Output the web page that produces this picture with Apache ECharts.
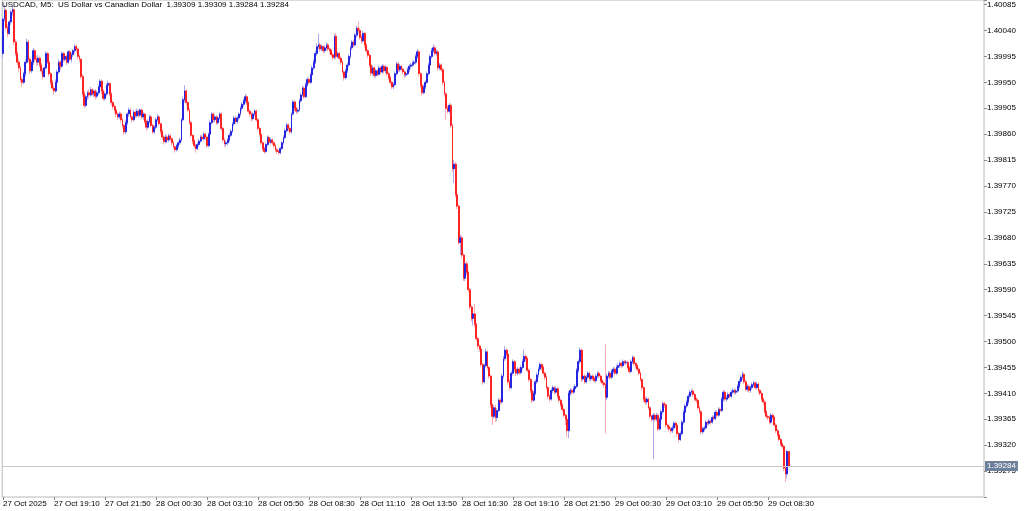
<!DOCTYPE html>
<html><head><meta charset="utf-8">
<script src="https://cdn.jsdelivr.net/npm/echarts@6/dist/echarts.min.js"></script>
<style>html,body{margin:0;padding:0;background:#fff}#c{width:1024px;height:511px}</style>
</head><body><div id="c"></div>
<script>
const symbol = 'USDCAD';
const timeframe = 'M5';
const description = 'US Dollar vs Canadian Dollar';
const xTickLabels = ['27 Oct 2025','27 Oct 19:10','27 Oct 21:50','28 Oct 00:30','28 Oct 03:10','28 Oct 05:50','28 Oct 08:30','28 Oct 11:10','28 Oct 13:50','28 Oct 16:30','28 Oct 19:10','28 Oct 21:50','29 Oct 00:30','29 Oct 03:10','29 Oct 05:50','29 Oct 08:30'];
const yTickLabels = ['1.40085','1.40040','1.39995','1.39950','1.39905','1.39860','1.39815','1.39770','1.39725','1.39680','1.39635','1.39590','1.39545','1.39500','1.39455','1.39410','1.39365','1.39320','1.39275'];
// [open, close, low, high]
const bars = [
[1.40000,1.40060,1.39992,1.40064],[1.40060,1.40075,1.40055,1.40085],[1.40075,1.40045,1.40040,1.40078],[1.40045,1.40035,1.40028,1.40050],
[1.40035,1.40055,1.40032,1.40058],[1.40055,1.40072,1.40050,1.40076],[1.40072,1.40076,1.40066,1.40082],[1.40076,1.40020,1.40015,1.40078],
[1.40020,1.40000,1.39995,1.40025],[1.40000,1.39985,1.39980,1.40005],[1.39985,1.39975,1.39968,1.39990],[1.39975,1.39955,1.39950,1.39978],
[1.39955,1.39950,1.39942,1.39960],[1.39950,1.39965,1.39947,1.39968],[1.39965,1.39985,1.39960,1.39990],[1.39985,1.40020,1.39982,1.40026],
[1.40020,1.39990,1.39985,1.40024],[1.39990,1.39970,1.39965,1.39994],[1.39970,1.39985,1.39966,1.39988],[1.39985,1.40005,1.39980,1.40010],
[1.40005,1.39990,1.39986,1.40008],[1.39990,1.39985,1.39978,1.39995],[1.39985,1.39992,1.39980,1.39998],[1.39992,1.39980,1.39976,1.39996],
[1.39980,1.39970,1.39965,1.39984],[1.39970,1.39960,1.39955,1.39975],[1.39960,1.39975,1.39958,1.39978],[1.39975,1.40000,1.39972,1.40004],
[1.40000,1.39985,1.39982,1.40003],[1.39985,1.39965,1.39960,1.39988],[1.39965,1.39950,1.39945,1.39968],[1.39950,1.39940,1.39936,1.39954],
[1.39940,1.39935,1.39928,1.39945],[1.39935,1.39950,1.39932,1.39955],[1.39950,1.39968,1.39946,1.39972],[1.39968,1.39985,1.39965,1.39990],
[1.39985,1.39978,1.39972,1.39988],[1.39978,1.40000,1.39975,1.40004],[1.40000,1.39990,1.39985,1.40003],[1.39990,1.39995,1.39986,1.40000],
[1.39995,1.39985,1.39980,1.39998],[1.39985,1.40003,1.39982,1.40006],[1.40003,1.39990,1.39987,1.40006],[1.39990,1.39998,1.39985,1.40002],
[1.39998,1.40005,1.39994,1.40008],[1.40005,1.40012,1.40000,1.40016],[1.40012,1.40008,1.40002,1.40016],[1.40008,1.39995,1.39990,1.40010],
[1.39995,1.39990,1.39985,1.39998],[1.39990,1.39960,1.39955,1.39992],[1.39960,1.39930,1.39925,1.39964],[1.39930,1.39910,1.39905,1.39935],
[1.39910,1.39925,1.39907,1.39928],[1.39925,1.39932,1.39920,1.39936],[1.39932,1.39928,1.39922,1.39938],[1.39928,1.39937,1.39925,1.39942],
[1.39937,1.39930,1.39926,1.39940],[1.39930,1.39935,1.39925,1.39938],[1.39935,1.39926,1.39920,1.39938],[1.39926,1.39932,1.39922,1.39936],
[1.39932,1.39942,1.39928,1.39946],[1.39942,1.39952,1.39938,1.39956],[1.39952,1.39935,1.39930,1.39955],[1.39935,1.39922,1.39918,1.39938],
[1.39922,1.39930,1.39918,1.39934],[1.39930,1.39945,1.39926,1.39948],[1.39945,1.39948,1.39940,1.39953],[1.39948,1.39930,1.39926,1.39950],
[1.39930,1.39915,1.39910,1.39933],[1.39915,1.39908,1.39903,1.39918],[1.39908,1.39902,1.39897,1.39912],[1.39902,1.39895,1.39890,1.39906],
[1.39895,1.39890,1.39885,1.39898],[1.39890,1.39895,1.39886,1.39899],[1.39895,1.39885,1.39880,1.39898],[1.39885,1.39875,1.39870,1.39888],
[1.39875,1.39864,1.39858,1.39878],[1.39864,1.39880,1.39860,1.39884],[1.39880,1.39895,1.39876,1.39898],[1.39895,1.39902,1.39890,1.39906],
[1.39902,1.39890,1.39886,1.39905],[1.39890,1.39885,1.39880,1.39893],[1.39885,1.39898,1.39882,1.39902],[1.39898,1.39892,1.39888,1.39901],
[1.39892,1.39900,1.39889,1.39904],[1.39900,1.39893,1.39888,1.39903],[1.39893,1.39902,1.39890,1.39905],[1.39902,1.39890,1.39886,1.39905],
[1.39890,1.39895,1.39885,1.39898],[1.39895,1.39882,1.39878,1.39897],[1.39882,1.39872,1.39866,1.39885],[1.39872,1.39882,1.39869,1.39886],
[1.39882,1.39890,1.39878,1.39894],[1.39890,1.39875,1.39872,1.39893],[1.39875,1.39864,1.39860,1.39878],[1.39864,1.39872,1.39861,1.39875],
[1.39872,1.39885,1.39868,1.39889],[1.39885,1.39890,1.39881,1.39895],[1.39890,1.39878,1.39874,1.39893],[1.39878,1.39865,1.39860,1.39880],
[1.39865,1.39855,1.39850,1.39868],[1.39855,1.39847,1.39842,1.39858],[1.39847,1.39855,1.39844,1.39860],[1.39855,1.39850,1.39845,1.39858],
[1.39850,1.39857,1.39846,1.39861],[1.39857,1.39852,1.39848,1.39860],[1.39852,1.39845,1.39840,1.39855],[1.39845,1.39838,1.39834,1.39848],
[1.39838,1.39833,1.39828,1.39840],[1.39833,1.39840,1.39830,1.39843],[1.39840,1.39845,1.39836,1.39848],[1.39845,1.39850,1.39841,1.39854],
[1.39850,1.39885,1.39847,1.39888],[1.39885,1.39920,1.39882,1.39925],[1.39920,1.39935,1.39915,1.39945],[1.39935,1.39915,1.39910,1.39938],
[1.39915,1.39902,1.39898,1.39918],[1.39902,1.39880,1.39876,1.39905],[1.39880,1.39858,1.39854,1.39883],[1.39858,1.39848,1.39843,1.39860],
[1.39848,1.39840,1.39836,1.39852],[1.39840,1.39835,1.39828,1.39843],[1.39835,1.39842,1.39832,1.39846],[1.39842,1.39848,1.39838,1.39852],
[1.39848,1.39855,1.39845,1.39858],[1.39855,1.39852,1.39848,1.39860],[1.39852,1.39860,1.39849,1.39864],[1.39860,1.39855,1.39850,1.39863],
[1.39855,1.39840,1.39836,1.39858],[1.39840,1.39860,1.39837,1.39863],[1.39860,1.39880,1.39857,1.39884],[1.39880,1.39895,1.39876,1.39898],
[1.39895,1.39885,1.39880,1.39898],[1.39885,1.39890,1.39881,1.39894],[1.39890,1.39880,1.39876,1.39893],[1.39880,1.39888,1.39877,1.39891],
[1.39888,1.39895,1.39884,1.39899],[1.39895,1.39870,1.39866,1.39898],[1.39870,1.39850,1.39846,1.39873],[1.39850,1.39843,1.39838,1.39853],
[1.39843,1.39845,1.39838,1.39849],[1.39845,1.39850,1.39841,1.39853],[1.39850,1.39858,1.39846,1.39862],[1.39858,1.39865,1.39855,1.39869],
[1.39865,1.39878,1.39862,1.39881],[1.39878,1.39888,1.39874,1.39892],[1.39888,1.39882,1.39878,1.39891],[1.39882,1.39888,1.39878,1.39892],
[1.39888,1.39895,1.39884,1.39898],[1.39895,1.39905,1.39891,1.39909],[1.39905,1.39912,1.39900,1.39916],[1.39912,1.39918,1.39908,1.39922],
[1.39918,1.39925,1.39914,1.39930],[1.39925,1.39915,1.39910,1.39928],[1.39915,1.39900,1.39896,1.39918],[1.39900,1.39895,1.39890,1.39903],
[1.39895,1.39887,1.39882,1.39898],[1.39887,1.39895,1.39884,1.39898],[1.39895,1.39900,1.39891,1.39904],[1.39900,1.39885,1.39881,1.39903],
[1.39885,1.39870,1.39866,1.39888],[1.39870,1.39860,1.39856,1.39873],[1.39860,1.39845,1.39841,1.39863],[1.39845,1.39835,1.39831,1.39848],
[1.39835,1.39830,1.39826,1.39838],[1.39830,1.39842,1.39827,1.39845],[1.39842,1.39854,1.39839,1.39858],[1.39854,1.39846,1.39842,1.39857],
[1.39846,1.39850,1.39842,1.39854],[1.39850,1.39845,1.39841,1.39853],[1.39845,1.39840,1.39836,1.39848],[1.39840,1.39833,1.39829,1.39843],
[1.39833,1.39830,1.39826,1.39836],[1.39830,1.39828,1.39824,1.39833],[1.39828,1.39835,1.39825,1.39838],[1.39835,1.39845,1.39832,1.39848],
[1.39845,1.39854,1.39842,1.39858],[1.39854,1.39866,1.39851,1.39870],[1.39866,1.39876,1.39862,1.39880],[1.39876,1.39870,1.39865,1.39879],
[1.39870,1.39864,1.39860,1.39873],[1.39864,1.39895,1.39861,1.39898],[1.39895,1.39916,1.39892,1.39920],[1.39916,1.39905,1.39900,1.39919],
[1.39905,1.39900,1.39895,1.39908],[1.39900,1.39902,1.39896,1.39906],[1.39902,1.39918,1.39899,1.39922],[1.39918,1.39928,1.39914,1.39932],
[1.39928,1.39940,1.39925,1.39944],[1.39940,1.39925,1.39921,1.39943],[1.39925,1.39946,1.39922,1.39950],[1.39946,1.39955,1.39942,1.39959],
[1.39955,1.39950,1.39946,1.39958],[1.39950,1.39963,1.39947,1.39967],[1.39963,1.39975,1.39960,1.39979],[1.39975,1.39985,1.39971,1.39990],
[1.39985,1.40000,1.39982,1.40005],[1.40000,1.40012,1.39996,1.40018],[1.40012,1.40015,1.40008,1.40035],[1.40015,1.40008,1.40003,1.40019],
[1.40008,1.40012,1.40004,1.40016],[1.40012,1.40005,1.40000,1.40015],[1.40005,1.40010,1.40001,1.40014],[1.40010,1.40015,1.40006,1.40019],
[1.40015,1.40008,1.40004,1.40018],[1.40008,1.40005,1.40000,1.40011],[1.40005,1.39998,1.39994,1.40008],[1.39998,1.39993,1.39988,1.40001],
[1.39993,1.40030,1.39990,1.40034],[1.40030,1.39995,1.39990,1.40036],[1.39995,1.40000,1.39991,1.40004],[1.40000,1.39992,1.39988,1.40003],
[1.39992,1.39985,1.39980,1.39995],[1.39985,1.39968,1.39964,1.39988],[1.39968,1.39958,1.39953,1.39971],[1.39958,1.39970,1.39955,1.39974],
[1.39970,1.39980,1.39966,1.39984],[1.39980,1.39995,1.39977,1.39999],[1.39995,1.40010,1.39991,1.40014],[1.40010,1.40020,1.40006,1.40024],
[1.40020,1.40015,1.40011,1.40024],[1.40015,1.40032,1.40012,1.40036],[1.40032,1.40044,1.40028,1.40048],[1.40044,1.40040,1.40035,1.40055],
[1.40040,1.40028,1.40024,1.40045],[1.40028,1.40022,1.40017,1.40032],[1.40022,1.40035,1.40019,1.40039],[1.40035,1.40015,1.40010,1.40038],
[1.40015,1.40005,1.40000,1.40018],[1.40005,1.39997,1.39992,1.40008],[1.39997,1.39980,1.39975,1.40000],[1.39980,1.39966,1.39961,1.39983],
[1.39966,1.39975,1.39962,1.39979],[1.39975,1.39962,1.39958,1.39978],[1.39962,1.39970,1.39958,1.39974],[1.39970,1.39964,1.39960,1.39973],
[1.39964,1.39975,1.39961,1.39979],[1.39975,1.39968,1.39964,1.39978],[1.39968,1.39978,1.39965,1.39982],[1.39978,1.39970,1.39966,1.39981],
[1.39970,1.39976,1.39966,1.39980],[1.39976,1.39965,1.39961,1.39979],[1.39965,1.39958,1.39954,1.39968],[1.39958,1.39950,1.39946,1.39961],
[1.39950,1.39942,1.39938,1.39953],[1.39942,1.39946,1.39938,1.39950],[1.39946,1.39965,1.39943,1.39969],[1.39965,1.39982,1.39962,1.39986],
[1.39982,1.39972,1.39968,1.39985],[1.39972,1.39978,1.39968,1.39982],[1.39978,1.39973,1.39969,1.39981],[1.39973,1.39968,1.39964,1.39976],
[1.39968,1.39963,1.39958,1.39971],[1.39963,1.39965,1.39959,1.39969],[1.39965,1.39972,1.39962,1.39976],[1.39972,1.39978,1.39968,1.39982],
[1.39978,1.39980,1.39974,1.39984],[1.39980,1.39983,1.39976,1.39987],[1.39983,1.39985,1.39979,1.39989],[1.39985,1.39995,1.39981,1.39999],
[1.39995,1.40003,1.39991,1.40008],[1.40003,1.39965,1.39960,1.40006],[1.39965,1.39945,1.39940,1.39968],[1.39945,1.39932,1.39927,1.39948],
[1.39932,1.39942,1.39929,1.39946],[1.39942,1.39950,1.39938,1.39954],[1.39950,1.39965,1.39947,1.39969],[1.39965,1.39980,1.39962,1.39984],
[1.39980,1.39995,1.39977,1.39999],[1.39995,1.40005,1.39991,1.40010],[1.40005,1.40010,1.40001,1.40016],[1.40010,1.40000,1.39996,1.40014],
[1.40000,1.40003,1.39996,1.40007],[1.40003,1.39975,1.39970,1.40006],[1.39975,1.39980,1.39971,1.39984],[1.39980,1.39972,1.39968,1.39983],
[1.39972,1.39950,1.39945,1.39975],[1.39950,1.39930,1.39925,1.39953],[1.39930,1.39905,1.39885,1.39933],[1.39905,1.39900,1.39896,1.39910],
[1.39900,1.39910,1.39896,1.39914],[1.39910,1.39875,1.39870,1.39913],[1.39875,1.39800,1.39795,1.39878],[1.39800,1.39808,1.39775,1.39815],
[1.39808,1.39755,1.39750,1.39812],[1.39755,1.39735,1.39730,1.39760],[1.39735,1.39672,1.39668,1.39738],[1.39672,1.39680,1.39650,1.39685],
[1.39680,1.39650,1.39645,1.39684],[1.39650,1.39610,1.39605,1.39653],[1.39610,1.39635,1.39605,1.39640],[1.39635,1.39620,1.39615,1.39640],
[1.39620,1.39590,1.39585,1.39623],[1.39590,1.39560,1.39555,1.39593],[1.39560,1.39540,1.39535,1.39563],[1.39540,1.39548,1.39528,1.39552],
[1.39548,1.39530,1.39525,1.39565],[1.39530,1.39505,1.39500,1.39533],[1.39505,1.39492,1.39487,1.39508],[1.39492,1.39487,1.39482,1.39495],
[1.39487,1.39460,1.39455,1.39490],[1.39460,1.39430,1.39425,1.39463],[1.39430,1.39458,1.39427,1.39462],[1.39458,1.39482,1.39455,1.39488],
[1.39482,1.39455,1.39450,1.39485],[1.39455,1.39440,1.39435,1.39458],[1.39440,1.39390,1.39385,1.39443],[1.39390,1.39370,1.39355,1.39393],
[1.39370,1.39385,1.39366,1.39390],[1.39385,1.39368,1.39360,1.39390],[1.39368,1.39380,1.39362,1.39384],[1.39380,1.39398,1.39377,1.39402],
[1.39398,1.39395,1.39390,1.39402],[1.39395,1.39440,1.39392,1.39444],[1.39440,1.39470,1.39436,1.39475],[1.39470,1.39485,1.39466,1.39492],
[1.39485,1.39478,1.39472,1.39488],[1.39478,1.39430,1.39425,1.39481],[1.39430,1.39420,1.39415,1.39434],[1.39420,1.39445,1.39417,1.39449],
[1.39445,1.39465,1.39441,1.39469],[1.39465,1.39452,1.39447,1.39468],[1.39452,1.39445,1.39440,1.39455],[1.39445,1.39452,1.39441,1.39456],
[1.39452,1.39446,1.39442,1.39455],[1.39446,1.39455,1.39443,1.39459],[1.39455,1.39465,1.39451,1.39469],[1.39465,1.39474,1.39461,1.39486],
[1.39474,1.39470,1.39465,1.39478],[1.39470,1.39450,1.39446,1.39473],[1.39450,1.39434,1.39430,1.39453],[1.39434,1.39415,1.39410,1.39437],
[1.39415,1.39398,1.39393,1.39418],[1.39398,1.39410,1.39395,1.39414],[1.39410,1.39430,1.39407,1.39434],[1.39430,1.39442,1.39426,1.39446],
[1.39442,1.39452,1.39438,1.39456],[1.39452,1.39460,1.39448,1.39464],[1.39460,1.39455,1.39450,1.39463],[1.39455,1.39445,1.39441,1.39458],
[1.39445,1.39438,1.39433,1.39448],[1.39438,1.39420,1.39415,1.39441],[1.39420,1.39405,1.39400,1.39423],[1.39405,1.39400,1.39395,1.39408],
[1.39400,1.39415,1.39397,1.39419],[1.39415,1.39420,1.39411,1.39424],[1.39420,1.39412,1.39408,1.39423],[1.39412,1.39418,1.39409,1.39422],
[1.39418,1.39405,1.39401,1.39421],[1.39405,1.39398,1.39394,1.39408],[1.39398,1.39390,1.39386,1.39401],[1.39390,1.39382,1.39378,1.39393],
[1.39382,1.39372,1.39368,1.39385],[1.39372,1.39365,1.39355,1.39375],[1.39365,1.39345,1.39333,1.39368],[1.39345,1.39410,1.39332,1.39414],
[1.39410,1.39415,1.39406,1.39419],[1.39415,1.39412,1.39408,1.39418],[1.39412,1.39418,1.39409,1.39422],[1.39418,1.39422,1.39414,1.39426],
[1.39422,1.39450,1.39419,1.39454],[1.39450,1.39465,1.39446,1.39469],[1.39465,1.39485,1.39461,1.39490],[1.39485,1.39435,1.39430,1.39488],
[1.39435,1.39440,1.39431,1.39444],[1.39440,1.39430,1.39426,1.39443],[1.39430,1.39438,1.39427,1.39442],[1.39438,1.39445,1.39434,1.39449],
[1.39445,1.39435,1.39431,1.39448],[1.39435,1.39440,1.39431,1.39444],[1.39440,1.39436,1.39432,1.39443],[1.39436,1.39432,1.39428,1.39439],
[1.39432,1.39440,1.39429,1.39444],[1.39440,1.39445,1.39436,1.39449],[1.39445,1.39440,1.39436,1.39448],[1.39440,1.39432,1.39428,1.39443],
[1.39432,1.39428,1.39424,1.39435],[1.39428,1.39425,1.39420,1.39431],[1.39425,1.39403,1.39340,1.39495],[1.39403,1.39440,1.39398,1.39444],
[1.39440,1.39445,1.39436,1.39449],[1.39445,1.39438,1.39434,1.39448],[1.39438,1.39448,1.39435,1.39452],[1.39448,1.39452,1.39444,1.39456],
[1.39452,1.39445,1.39441,1.39455],[1.39445,1.39455,1.39442,1.39459],[1.39455,1.39458,1.39451,1.39462],[1.39458,1.39462,1.39454,1.39466],
[1.39462,1.39458,1.39454,1.39465],[1.39458,1.39465,1.39455,1.39469],[1.39465,1.39463,1.39460,1.39468],[1.39463,1.39464,1.39459,1.39468],
[1.39464,1.39455,1.39451,1.39467],[1.39455,1.39448,1.39444,1.39458],[1.39448,1.39465,1.39445,1.39469],[1.39465,1.39472,1.39461,1.39476],
[1.39472,1.39462,1.39458,1.39475],[1.39462,1.39458,1.39454,1.39465],[1.39458,1.39452,1.39448,1.39461],[1.39452,1.39445,1.39441,1.39455],
[1.39445,1.39434,1.39430,1.39448],[1.39434,1.39420,1.39415,1.39437],[1.39420,1.39400,1.39395,1.39423],[1.39400,1.39395,1.39390,1.39404],
[1.39395,1.39400,1.39391,1.39404],[1.39400,1.39385,1.39381,1.39403],[1.39385,1.39370,1.39366,1.39388],[1.39370,1.39365,1.39360,1.39373],
[1.39365,1.39372,1.39296,1.39376],[1.39372,1.39365,1.39360,1.39375],[1.39365,1.39372,1.39361,1.39376],[1.39372,1.39348,1.39344,1.39375],
[1.39348,1.39365,1.39345,1.39369],[1.39365,1.39378,1.39361,1.39382],[1.39378,1.39392,1.39374,1.39396],[1.39392,1.39390,1.39385,1.39396],
[1.39390,1.39355,1.39350,1.39393],[1.39355,1.39352,1.39347,1.39358],[1.39352,1.39348,1.39343,1.39355],[1.39348,1.39345,1.39340,1.39351],
[1.39345,1.39350,1.39341,1.39354],[1.39350,1.39358,1.39346,1.39362],[1.39358,1.39355,1.39350,1.39361],[1.39355,1.39340,1.39335,1.39358],
[1.39340,1.39330,1.39325,1.39343],[1.39330,1.39340,1.39327,1.39344],[1.39340,1.39360,1.39337,1.39364],[1.39360,1.39377,1.39356,1.39381],
[1.39377,1.39388,1.39373,1.39392],[1.39388,1.39395,1.39384,1.39399],[1.39395,1.39405,1.39391,1.39409],[1.39405,1.39412,1.39401,1.39416],
[1.39412,1.39414,1.39408,1.39418],[1.39414,1.39408,1.39404,1.39417],[1.39408,1.39400,1.39396,1.39411],[1.39400,1.39398,1.39393,1.39403],
[1.39398,1.39385,1.39381,1.39401],[1.39385,1.39378,1.39374,1.39388],[1.39378,1.39343,1.39338,1.39381],[1.39343,1.39348,1.39339,1.39352],
[1.39348,1.39350,1.39344,1.39354],[1.39350,1.39360,1.39347,1.39364],[1.39360,1.39358,1.39354,1.39363],[1.39358,1.39362,1.39354,1.39366],
[1.39362,1.39360,1.39356,1.39365],[1.39360,1.39368,1.39357,1.39372],[1.39368,1.39366,1.39362,1.39371],[1.39366,1.39377,1.39363,1.39381],
[1.39377,1.39372,1.39368,1.39380],[1.39372,1.39382,1.39369,1.39386],[1.39382,1.39380,1.39376,1.39385],[1.39380,1.39400,1.39377,1.39404],
[1.39400,1.39412,1.39396,1.39416],[1.39412,1.39400,1.39396,1.39415],[1.39400,1.39402,1.39396,1.39406],[1.39402,1.39408,1.39398,1.39412],
[1.39408,1.39405,1.39401,1.39411],[1.39405,1.39412,1.39402,1.39416],[1.39412,1.39415,1.39408,1.39419],[1.39415,1.39412,1.39408,1.39418],
[1.39412,1.39414,1.39408,1.39418],[1.39414,1.39422,1.39411,1.39426],[1.39422,1.39431,1.39418,1.39435],[1.39431,1.39438,1.39427,1.39442],
[1.39438,1.39443,1.39434,1.39448],[1.39443,1.39430,1.39426,1.39446],[1.39430,1.39417,1.39413,1.39433],[1.39417,1.39422,1.39413,1.39426],
[1.39422,1.39415,1.39411,1.39425],[1.39415,1.39420,1.39411,1.39424],[1.39420,1.39425,1.39416,1.39429],[1.39425,1.39428,1.39421,1.39432],
[1.39428,1.39420,1.39416,1.39431],[1.39420,1.39426,1.39417,1.39430],[1.39426,1.39415,1.39411,1.39429],[1.39415,1.39410,1.39406,1.39418],
[1.39410,1.39400,1.39396,1.39413],[1.39400,1.39395,1.39390,1.39403],[1.39395,1.39378,1.39374,1.39398],[1.39378,1.39370,1.39366,1.39381],
[1.39370,1.39368,1.39363,1.39373],[1.39368,1.39360,1.39356,1.39371],[1.39360,1.39372,1.39357,1.39376],[1.39372,1.39368,1.39364,1.39375],
[1.39368,1.39355,1.39351,1.39371],[1.39355,1.39345,1.39341,1.39358],[1.39345,1.39338,1.39334,1.39348],[1.39338,1.39330,1.39326,1.39341],
[1.39330,1.39322,1.39318,1.39333],[1.39322,1.39318,1.39313,1.39325],[1.39318,1.39280,1.39275,1.39321],[1.39280,1.39270,1.39256,1.39283],
[1.39270,1.39309,1.39262,1.39312],[1.39309,1.39284,1.39284,1.39309]
];

const slotCount = 616;          // bar slots across the chart window
const labelStep = 32;           // one time label every 32 bars
const monthNames = ['Jan','Feb','Mar','Apr','May','Jun','Jul','Aug','Sep','Oct','Nov','Dec'];
const pad2 = n => (n < 10 ? '0' : '') + n;
const startMs = Date.UTC(2025, 9, 27, 16, 30);
const categories = [];
for (let k = 0; k < slotCount; k++) {
  const d = new Date(startMs + k * 300000);
  categories.push(d.getUTCDate() + ' ' + monthNames[d.getUTCMonth()] + ' ' + pad2(d.getUTCHours()) + ':' + pad2(d.getUTCMinutes()));
}
const bodies = bars.map(b => [b[0], b[1], Math.min(b[0], b[1]), Math.max(b[0], b[1])]);
const last = bars[bars.length - 1];
const lastClose = last[1];
const titleText = symbol + ', ' + timeframe + ':  ' + description + '  ' +
  [last[0], last[3], last[2], last[1]].map(v => v.toFixed(5)).join(' ');

const FONT = 'Liberation Sans';
const showX = idx => idx % labelStep === 0 && idx / labelStep < xTickLabels.length;

const chart = echarts.init(document.getElementById('c'), null, {renderer: 'canvas'});
chart.setOption({
  animation: false,
  backgroundColor: '#ffffff',
  textStyle: {fontFamily: FONT},
  title: {
    text: titleText, left: 1, top: 0, padding: [1, 0, 0, 1],
    textStyle: {fontSize: 8, fontWeight: 'normal', color: '#000', fontFamily: FONT}
  },
  grid: {left: 1, top: 0, right: 40, bottom: 14, show: true, borderColor: '#b8b8b8', borderWidth: 1, backgroundColor: 'transparent'},
  xAxis: {
    type: 'category', data: categories, boundaryGap: true,
    axisLine: {show: false},
    axisTick: {show: true, alignWithLabel: true, interval: showX, length: 3, lineStyle: {color: '#8a8a8a'}},
    axisLabel: {
      interval: showX, align: 'left', margin: 3, fontSize: 8, color: '#000', fontFamily: FONT,
      formatter: (v, idx) => showX(idx) ? xTickLabels[idx / labelStep] : ''
    },
    splitLine: {show: false}
  },
  yAxis: {
    type: 'value', position: 'right', min: 1.3923, max: 1.40093, interval: 0.00045,
    axisLine: {show: false},
    axisTick: {show: true, length: 3, lineStyle: {color: '#8a8a8a'}},
    splitLine: {show: false},
    axisLabel: {
      margin: 3, fontSize: 8, color: '#000', fontFamily: FONT,
      formatter: v => { const s = v.toFixed(5); return yTickLabels.indexOf(s) >= 0 ? s : ''; }
    }
  },
  series: [
    {
      type: 'candlestick', name: 'range', data: bars, barWidth: 1, silent: true, large: false,
      itemStyle: {color: '#a9a9ef', color0: '#ffabb3', borderColor: '#a9a9ef', borderColor0: '#ffabb3', borderWidth: 1}
    },
    {
      type: 'candlestick', name: 'body', data: bodies, barWidth: 1.4, silent: true, large: false,
      itemStyle: {color: '#2626e2', color0: '#ff2424', borderColor: '#2626e2', borderColor0: '#ff2424', borderWidth: 1}
    },
    {
      type: 'line', name: 'price', data: [], silent: true, symbol: 'none', z: 5,
      markLine: {
        silent: true, symbol: ['none', 'none'], animation: false, precision: 5,
        lineStyle: {color: '#c8c8c8', width: 1, type: 'solid'},
        label: {
          show: true, position: 'end', distance: 1, formatter: lastClose.toFixed(5),
          backgroundColor: '#6e819c', color: '#ffffff', fontSize: 8, fontFamily: FONT, padding: [1, 2, 1, 2]
        },
        emphasis: {disabled: true},
        data: [{yAxis: lastClose}]
      }
    }
  ]
});
</script>
</body></html>
